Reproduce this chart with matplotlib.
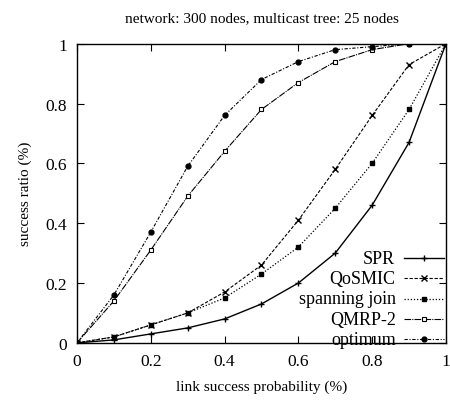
import matplotlib.pyplot as plt

plt.rcParams['font.family'] = ['Liberation Serif', 'DejaVu Serif']

x = [0, 0.1, 0.2, 0.3, 0.4, 0.5, 0.6, 0.7, 0.8, 0.9, 1.0]
spr = [0, 0.01, 0.03, 0.05, 0.08, 0.13, 0.20, 0.30, 0.46, 0.67, 1.0]
qosmic = [0, 0.02, 0.06, 0.10, 0.17, 0.26, 0.41, 0.58, 0.76, 0.93, 1.0]
spanning = [0, 0.02, 0.06, 0.10, 0.15, 0.23, 0.32, 0.45, 0.60, 0.78, 1.0]
qmrp2 = [0, 0.14, 0.31, 0.49, 0.64, 0.78, 0.87, 0.94, 0.98, 1.0, 1.0]
optimum = [0, 0.16, 0.37, 0.59, 0.76, 0.88, 0.94, 0.98, 0.99, 1.0, 1.0]
labels = ['SPR', 'QoSMIC', 'spanning join', 'QMRP-2', 'optimum']

fig = plt.figure(figsize=(4.5, 4.06), dpi=100)
ax = fig.add_axes([0.171, 0.153, 0.82, 0.737])

h1, = ax.plot(x, spr, color='black', lw=1.0, ls='-', marker='+', ms=5)
h2, = ax.plot(x, qosmic, color='black', lw=0.8, ls=(0, (3, 1.5)), marker='x', ms=4)
h3, = ax.plot(x, spanning, color='black', lw=0.9, ls=(0, (1, 1.5)), marker='s', ms=2.5)
h4, = ax.plot(x, qmrp2, color='black', lw=0.8, ls=(0, (6, 1, 1, 1)), marker='s', ms=3.5,
              mfc='white', mew=0.8)
h5, = ax.plot(x, optimum, color='black', lw=0.8, ls=(0, (3, 1.5, 1, 1.5)), marker='o', ms=3.5)

ax.set_xlim(0, 1)
ax.set_ylim(0, 1)
ax.set_xticks([0, 0.2, 0.4, 0.6, 0.8, 1])
ax.set_xticklabels(['0', '0.2', '0.4', '0.6', '0.8', '1'])
ax.set_yticks([0, 0.2, 0.4, 0.6, 0.8, 1])
ax.set_yticklabels(['0', '0.2', '0.4', '0.6', '0.8', '1'])
ax.tick_params(direction='in', top=True, right=True, labelsize=12.5, length=5, pad=7)
for s in ax.spines.values():
    s.set_linewidth(1.0)

ax.set_title('network: 300 nodes, multicast tree: 25 nodes', fontsize=11, pad=16)
ax.set_xlabel('link success probability (%)', fontsize=11, labelpad=8)
ax.set_ylabel('success ratio (%)', fontsize=11, labelpad=10)

# legend: handles only, labels added right-aligned to their left
leg = ax.legend([h1, h2, h3, h4, h5], [''] * 5, loc='lower right', frameon=False,
                fontsize=12.5, handlelength=2.3, handletextpad=0, labelspacing=0.24,
                borderpad=0.0, borderaxespad=0.0, bbox_to_anchor=(0.995, -0.022))
fig.canvas.draw()
r = fig.canvas.get_renderer()
inv = ax.transAxes.inverted()
for line, lab in zip(leg.get_lines(), labels):
    bb = line.get_window_extent(r)
    xa, ya = inv.transform((bb.x0 - 6, (bb.y0 + bb.y1) / 2))
    ax.text(xa, ya, lab, transform=ax.transAxes, ha='right', va='center',
            fontsize=13)

fig.savefig('out.png', dpi=100)
